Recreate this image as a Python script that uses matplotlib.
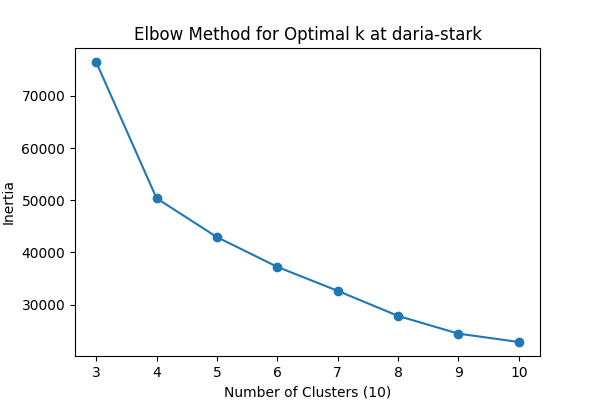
import matplotlib
matplotlib.use("Agg")
import matplotlib.pyplot as plt

# inertia per k
k_values = [3, 4, 5, 6, 7, 8, 9, 10]
inertia = [76500, 50400, 42950, 37250, 32650, 27850, 24450, 22850]

fig = plt.figure(figsize=(6, 4), dpi=100)
plt.plot(k_values, inertia, marker='o')
plt.title("Elbow Method for Optimal k at daria-stark")
plt.xlabel("Number of Clusters (10)")
plt.ylabel("Inertia")
plt.xticks(k_values)
plt.subplots_adjust(left=0.125, right=0.9, bottom=0.11, top=0.88)
plt.savefig("out.png")
